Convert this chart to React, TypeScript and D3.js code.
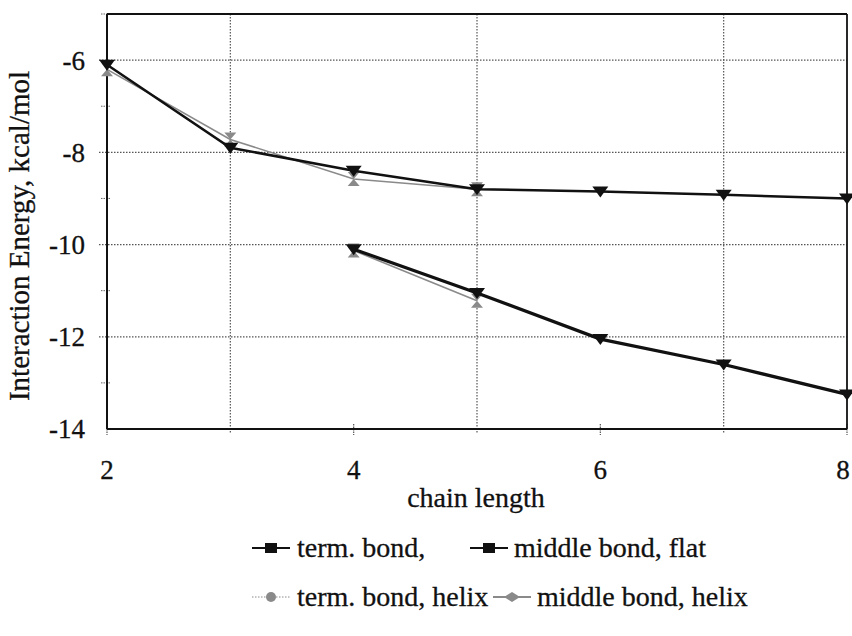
import React, { useEffect, useRef } from "react";
import * as d3 from "d3";

// chain length values
const chainLength = [2, 3, 4, 5, 6, 7, 8];
const chainLengthMiddle = [4, 5, 6, 7, 8];
const chainLengthHelix = [2, 3, 4, 5];
const chainLengthMiddleHelix = [4, 5];

// interaction energies, kcal/mol
const termBondFlat = [-6.1, -7.9, -8.4, -8.8, -8.85, -8.92, -9.0];
const middleBondFlat = [-10.1, -11.05, -12.05, -12.6, -13.25];
const termBondHelix = [-6.2, -7.72, -8.58, -8.8];
const middleBondHelix = [-10.13, -11.22];

const yTicks = [-14, -12, -10, -8, -6];
const yMinorTicks = [-13, -11, -9, -7, -5];
const xTicks = [2, 4, 6, 8];
const xGrid = [3, 5, 7];

const legendLabels = [
  "term. bond,",
  "middle bond, flat",
  "term. bond, helix",
  "middle bond, helix",
];

const W = 852;
const H = 636;
const FONT = "'Liberation Serif'";

export default function App() {
  const ref = useRef<SVGSVGElement | null>(null);

  useEffect(() => {
    const svg = d3.select(ref.current);
    svg.selectAll("*").remove();

    const x = d3.scaleLinear().domain([2, 8]).range([107, 847]);
    const y = d3.scaleLinear().domain([-14, -5]).range([429, 14]);

    const g = svg.append("g");

    // dotted grid
    g.selectAll("line.hgrid")
      .data(yTicks.filter((t) => t > -14))
      .join("line")
      .attr("x1", x(2) - 8)
      .attr("x2", x(8))
      .attr("y1", (d) => y(d))
      .attr("y2", (d) => y(d))
      .attr("stroke", "#555")
      .attr("stroke-width", 1.2)
      .attr("stroke-dasharray", "1.5,1.5");

    g.selectAll("line.vgrid")
      .data(xGrid)
      .join("line")
      .attr("x1", (d) => x(d))
      .attr("x2", (d) => x(d))
      .attr("y1", y(-5))
      .attr("y2", y(-14) + 4)
      .attr("stroke", "#555")
      .attr("stroke-width", 1.2)
      .attr("stroke-dasharray", "1.5,1.5");

    // minor ticks on the y axis
    g.selectAll("line.ymin")
      .data(yMinorTicks)
      .join("line")
      .attr("x1", x(2) - 6)
      .attr("x2", x(2) + 4)
      .attr("y1", (d) => y(d))
      .attr("y2", (d) => y(d))
      .attr("stroke", "#666")
      .attr("stroke-width", 1)
      .attr("stroke-dasharray", "1.5,1");

    // x ticks at labelled positions
    g.selectAll("line.xt")
      .data(xTicks)
      .join("line")
      .attr("x1", (d) => x(d))
      .attr("x2", (d) => x(d))
      .attr("y1", y(-14) - 5)
      .attr("y2", y(-14) + 6)
      .attr("stroke", "#555")
      .attr("stroke-width", 1.2)
      .attr("stroke-dasharray", "1.5,1");

    // plot frame
    g.append("line")
      .attr("x1", x(2)).attr("x2", x(8))
      .attr("y1", y(-5)).attr("y2", y(-5))
      .attr("stroke", "#111").attr("stroke-width", 1.8);
    g.append("line")
      .attr("x1", x(8)).attr("x2", x(8))
      .attr("y1", y(-5)).attr("y2", y(-14))
      .attr("stroke", "#111").attr("stroke-width", 1.8);
    g.append("line")
      .attr("x1", x(2)).attr("x2", x(2))
      .attr("y1", y(-5)).attr("y2", y(-14))
      .attr("stroke", "#111").attr("stroke-width", 2);
    g.append("line")
      .attr("x1", x(2)).attr("x2", x(8))
      .attr("y1", y(-14)).attr("y2", y(-14))
      .attr("stroke", "#111").attr("stroke-width", 2);

    const ink = (sel: any, size: number) =>
      sel
        .attr("font-family", FONT)
        .attr("font-size", size)
        .attr("fill", "#111")
        .attr("stroke", "#111")
        .attr("stroke-width", 0.3);

    // tick labels
    ink(
      g.selectAll("text.yl")
        .data(yTicks)
        .join("text")
        .attr("x", 85)
        .attr("y", (d: number) => y(d))
        .attr("dy", "0.35em")
        .attr("text-anchor", "end")
        .text((d: number) => String(d)),
      27
    );

    // keep the last x label inside the canvas
    ink(
      g.selectAll("text.xl")
        .data(xTicks)
        .join("text")
        .attr("x", (d: number) => Math.min(x(d), W - 9))
        .attr("y", 479)
        .attr("text-anchor", "middle")
        .text((d: number) => String(d)),
      27
    );

    // axis titles
    ink(
      g.append("text")
        .attr("transform", `translate(29,236) rotate(-90)`)
        .attr("text-anchor", "middle")
        .text("Interaction Energy, kcal/mol"),
      29
    );

    ink(
      g.append("text")
        .attr("x", 476)
        .attr("y", 507)
        .attr("text-anchor", "middle")
        .text("chain length"),
      28
    );

    const line = d3
      .line<[number, number]>()
      .x((d) => x(d[0]))
      .y((d) => y(d[1]));

    const tri = "M-8,-5 L8,-5 L0,6 Z";
    const hourglass = "M-6,-7 L6,-7 L0,0 L6,7 L-6,7 L0,0 Z";

    const series = [
      { xs: chainLengthHelix, ys: termBondHelix, color: "#8a8a8a", width: 1.6, marker: hourglass },
      { xs: chainLengthMiddleHelix, ys: middleBondHelix, color: "#8a8a8a", width: 1.6, marker: hourglass },
      { xs: chainLength, ys: termBondFlat, color: "#111", width: 2.5, marker: tri },
      { xs: chainLengthMiddle, ys: middleBondFlat, color: "#111", width: 3.2, marker: tri },
    ];

    series.forEach((s) => {
      const pts: [number, number][] = s.xs.map((v, i) => [v, s.ys[i]]);
      g.append("path")
        .attr("d", line(pts) as string)
        .attr("fill", "none")
        .attr("stroke", s.color)
        .attr("stroke-width", s.width);
      g.selectAll(null)
        .data(pts)
        .join("path")
        .attr("transform", (d) => `translate(${x(d[0])},${y(d[1])})`)
        .attr("d", s.marker)
        .attr("fill", s.color);
    });

    // legend
    const legendItems = [
      { label: legendLabels[0], ix: 252, tx: 297, cy: 548, color: "#111", dashed: false, shape: "square" },
      { label: legendLabels[1], ix: 470, tx: 514, cy: 548, color: "#111", dashed: false, shape: "square" },
      { label: legendLabels[2], ix: 252, tx: 297, cy: 597, color: "#8a8a8a", dashed: true, shape: "circle" },
      { label: legendLabels[3], ix: 493, tx: 537, cy: 597, color: "#8a8a8a", dashed: false, shape: "diamond" },
    ];
    const lg = svg.append("g");
    legendItems.forEach((it) => {
      lg.append("line")
        .attr("x1", it.ix).attr("x2", it.ix + 38)
        .attr("y1", it.cy).attr("y2", it.cy)
        .attr("stroke", it.color)
        .attr("stroke-width", it.dashed ? 1.2 : 1.8)
        .attr("stroke-dasharray", it.dashed ? "1.5,1.5" : null);
      const cx = it.ix + 19;
      if (it.shape === "square") {
        lg.append("rect")
          .attr("x", cx - 6).attr("y", it.cy - 5)
          .attr("width", 12).attr("height", 10)
          .attr("fill", it.color);
      } else if (it.shape === "circle") {
        lg.append("circle")
          .attr("cx", cx).attr("cy", it.cy).attr("r", 5)
          .attr("fill", it.color);
      } else {
        lg.append("path")
          .attr("transform", `translate(${cx},${it.cy})`)
          .attr("d", "M-8,0 L0,-5 L8,0 L0,5 Z")
          .attr("fill", it.color);
      }
      ink(
        lg.append("text")
          .attr("x", it.tx)
          .attr("y", it.cy)
          .attr("dy", "0.32em")
          .text(it.label),
        28
      );
    });
  }, []);

  return (
    <svg
      ref={ref}
      width={W}
      height={H}
      style={{ position: "absolute", left: 0, top: 0, background: "#fff" }}
    />
  );
}
